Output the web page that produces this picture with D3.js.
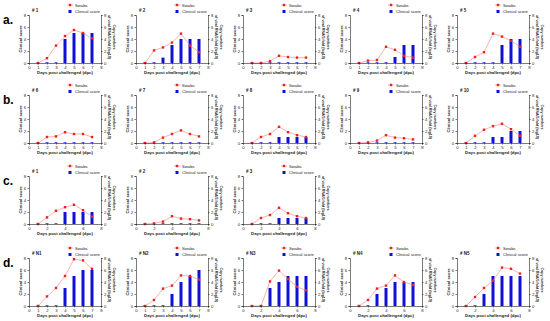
<!DOCTYPE html>
<html>
<head>
<meta charset="utf-8">
<script src="https://cdn.jsdelivr.net/npm/d3@7"></script>
<style>
  body { margin: 0; background: #fff; }
  svg { font-family: "Liberation Sans", Arial, sans-serif; }
  .axis path, .axis line { stroke: #222; stroke-width: 0.6; }
  .axis text { font-size: 4.2px; fill: #222; }
</style>
</head>
<body>
<svg width="550" height="321"></svg>
<script>
// data
const days = [1, 2, 3, 4, 5, 6, 7];
const rowLabels = ["a.", "b.", "c.", "d."];
const panelNames = [
  ["# 1", "# 2", "# 3", "# 4", "# 5"],
  ["# 6", "# 7", "# 8", "# 9", "# 10"],
  ["# 1", "# 2", "# 3"],
  ["# N1", "# N2", "# N3", "# N4", "# N5"]
];
// Swabs (right axis)
const swabValues = [
  [[0, 0.8, 2.9, 4.5, 5.5, 5.0, 4.1],
   [0, 2.1, 2.6, 3.4, 4.9, 2.9, 1.8],
   [0, 0, 0.3, 1.2, 1.0, 0.9, 0.9],
   [0, 0.4, 0.5, 2.7, 2.2, 1.2, 0.9],
   [0, 1.0, 1.8, 4.9, 4.4, 3.7, 2.7]],
  [[0, 1.0, 1.1, 1.8, 1.5, 1.5, 1.0],
   [0, 0.1, 0.9, 1.5, 2.1, 1.5, 1.1],
   [0, 1.0, 1.5, 2.7, 1.8, 1.3, 1.0],
   [0, 0.1, 0.4, 1.3, 0.9, 0.8, 0.6],
   [0, 1.2, 2.2, 2.8, 3.2, 2.3, 1.2]],
  [[0, 1.1, 2.2, 2.8, 3.2, 2.3, 1.2],
   [0, 0.1, 0.4, 1.3, 0.9, 0.8, 0.6],
   [0, 1.0, 1.5, 2.7, 1.8, 1.3, 1.0]],
  [[0, 1.6, 3.0, 5.0, 7.8, 7.6, 6.2],
   [0, 1.0, 2.9, 3.4, 5.1, 5.0, 4.4],
   [0, 0, 4.1, 5.9, 4.5, 3.2, 2.6],
   [0, 1.0, 2.9, 3.4, 5.1, 4.0, 3.5],
   [0, 1.5, 3.0, 4.2, 6.4, 6.2, 5.4]]
];
// Clinical score (left axis)
const clinicalValues = [
  [[0, 0, 0, 4, 5, 5, 5],
   [0, 0, 0.9, 3, 4, 4, 4],
   [0, 0, 0, 0, 0, 0, 0],
   [0, 0, 0, 0.1, 1, 3, 3],
   [0, 0, 0, 0, 3, 4, 4]],
  [[0, 0, 0, 0, 0, 0, 0],
   [0, 0, 0, 0, 0, 0, 0],
   [0, 0, 0, 1, 1, 1, 1],
   [0, 0, 0, 0, 0, 0, 0],
   [0, 0, 0, 1, 1, 2, 2]],
  [[0, 0, 0, 2, 2, 2, 2],
   [0, 0, 0, 0, 0, 0, 0],
   [0, 0, 0, 1, 1, 1, 1]],
  [[0, 0, 0, 3, 5, 6, 6],
   [0, 0, 0, 2, 4, 5, 6],
   [0, 0, 3, 4, 5, 5, 5],
   [0, 0, 2, 3, 4, 4, 4],
   [0, 0, 2, 5, 5, 5, 5]]
];
const xTicksAll = [0, 1, 2, 3, 4, 5, 6, 7, 8];
const xTicksEven = [0, 2, 4, 6, 8];
const xTickSets = [
  [xTicksAll, xTicksAll, xTicksAll, xTicksAll, xTicksAll],
  [xTicksAll, xTicksAll, xTicksAll, xTicksAll, xTicksAll],
  [xTicksEven, xTicksEven, xTicksEven],
  [xTicksAll, xTicksAll, xTicksEven, xTicksEven, xTicksEven]
];
const yTicks = [0, 2, 4, 6, 8];

const svg = d3.select("svg");
const rowTops = [15, 95, 176, 258];
const plotW = 72, plotH = 48;
const colStep = 107, firstLeft = 29;

const x = d3.scaleLinear().domain([0, 8]).range([0, plotW]);
const y = d3.scaleLinear().domain([0, 8]).range([plotH, 0]);

rowLabels.forEach((lab, r) => {
  svg.append("text")
    .attr("x", 3).attr("y", rowTops[r] + 9)
    .attr("font-size", 12).attr("font-weight", "bold")
    .text(lab);

  panelNames[r].forEach((name, c) => {
    const g = svg.append("g")
      .attr("transform", `translate(${firstLeft + c * colStep},${rowTops[r]})`);

    // bars: clinical score
    g.selectAll("rect.bar")
      .data(days.map((d, i) => ({ d, v: clinicalValues[r][c][i] })))
      .enter().append("rect")
      .attr("class", "bar")
      .attr("x", p => x(p.d) - 1.5)
      .attr("width", 3)
      .attr("y", p => Math.min(y(p.v), plotH - 0.7))
      .attr("height", p => Math.max(plotH - y(p.v), 0.7))
      .attr("fill", "#1010d8");

    // line: swabs
    const pts = days.map((d, i) => ({ d, v: swabValues[r][c][i] }));
    g.append("path")
      .datum(pts)
      .attr("fill", "none")
      .attr("stroke", "#f5a0a0")
      .attr("stroke-width", 0.8)
      .attr("d", d3.line().x(p => x(p.d)).y(p => y(p.v)));
    g.selectAll("rect.pt")
      .data(pts)
      .enter().append("rect")
      .attr("class", "pt")
      .attr("x", p => x(p.d) - 1.2)
      .attr("y", p => y(p.v) - 1.2)
      .attr("width", 2.4).attr("height", 2.4)
      .attr("fill", "#f02020");

    // axes
    g.append("g").attr("class", "axis")
      .attr("transform", `translate(0,${plotH})`)
      .call(d3.axisBottom(x).tickValues(xTickSets[r][c]).tickSize(1.5).tickPadding(1.5));
    g.append("g").attr("class", "axis")
      .call(d3.axisLeft(y).tickValues(yTicks).tickSize(1.5).tickPadding(1.5));
    g.append("g").attr("class", "axis")
      .attr("transform", `translate(${plotW},0)`)
      .call(d3.axisRight(y).tickValues(yTicks).tickSize(1.5).tickPadding(1.5));

    // titles
    g.append("text")
      .attr("x", plotW / 2).attr("y", plotH + 11)
      .attr("text-anchor", "middle")
      .attr("font-size", 4.3).attr("font-weight", "bold").attr("fill", "#222")
      .text("Days post challenged (dpc)");
    g.append("text")
      .attr("transform", `translate(-7,${plotH / 2}) rotate(-90)`)
      .attr("text-anchor", "middle")
      .attr("font-size", 4.2).attr("font-weight", "bold").attr("fill", "#222")
      .text("Clinical score");
    const rt = g.append("text")
      .attr("transform", `translate(${plotW + 7},${plotH / 2 - 2}) rotate(90)`)
      .attr("text-anchor", "middle")
      .attr("font-size", 3.6).attr("font-weight", "bold").attr("fill", "#222");
    rt.append("tspan").attr("x", 0).attr("dy", -4.5).text("Copy numbers");
    rt.append("tspan").attr("x", 0).attr("dy", 4.5).text("of viral RNA/5 fold (log10)");

    g.append("text")
      .attr("x", 3).attr("y", -3)
      .attr("font-size", 4.5).attr("font-weight", "bold").attr("fill", "#222")
      .text(name);

    // legend
    const lg = g.append("g").attr("transform", `translate(41,0)`);
    lg.append("line").attr("x1", -3).attr("x2", 3)
      .attr("y1", -10).attr("y2", -10)
      .attr("stroke", "#f5a0a0").attr("stroke-width", 0.8);
    lg.append("rect").attr("x", -1.2).attr("y", -11.2)
      .attr("width", 2.4).attr("height", 2.4).attr("fill", "#f02020");
    lg.append("text").attr("x", 5).attr("y", -8.5)
      .attr("font-size", 4.2).attr("fill", "#222").text("Swabs");
    lg.append("rect").attr("x", -1.5).attr("y", -5)
      .attr("width", 3).attr("height", 3).attr("fill", "#1010d8");
    lg.append("text").attr("x", 5).attr("y", -2)
      .attr("font-size", 4.2).attr("fill", "#222").text("Clinical score");
  });
});
</script>
</body>
</html>
